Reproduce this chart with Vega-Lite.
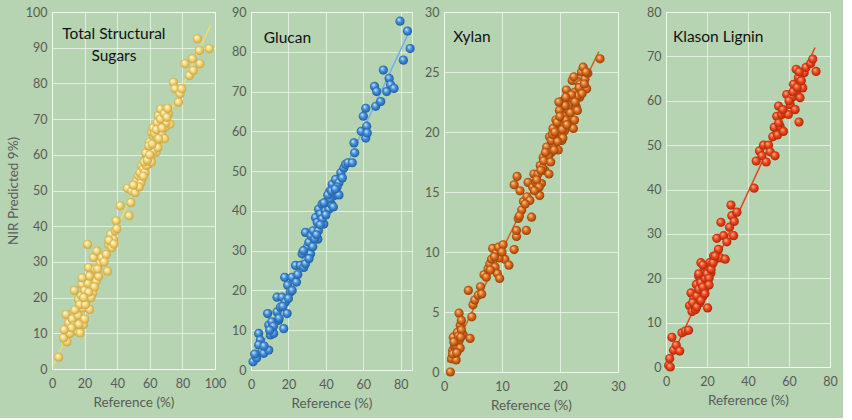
{
  "$schema": "https://vega.github.io/schema/vega-lite/v6.json",
  "background": "#b6d4b1",
  "padding": {"left": 5, "top": 5, "right": 5, "bottom": 5},
  "config": {
    "font": "Lato",
    "view": {"stroke": "#ffffff", "strokeOpacity": 0.6, "strokeWidth": 1},
    "axis": {
      "domain": false, "ticks": false, "labelOverlap": false, "labelFlush": false, "tickCount": 20,
      "grid": true, "gridColor": "#ffffff", "gridOpacity": 0.6, "gridWidth": 1,
      "labelColor": "#5a5a5a", "labelFontSize": 12.5, "labelPadding": 5,
      "titleColor": "#5a5a5a", "titleFontSize": 13.5, "titleFontWeight": "normal"
    },
    "axisX": {"titlePadding": 6, "labelPadding": 8},
    "axisY": {"titlePadding": 5}
  },
  "datasets": {
    "tss": [
      {"ref":4.1,"pred":3.3},{"ref":9.2,"pred":7.6},{"ref":7.1,"pred":8.7},{"ref":8.6,"pred":15.3},{"ref":9.2,"pred":11},{"ref":10.2,"pred":12.9},{"ref":13.7,"pred":22},{"ref":14.9,"pred":10.6},{"ref":15.7,"pred":13.9},{"ref":15.3,"pred":16.2},{"ref":16.3,"pred":19.5},{"ref":18.4,"pred":23.7},{"ref":19,"pred":17.1},{"ref":19.4,"pred":12.5},{"ref":17.3,"pred":10.1},{"ref":21,"pred":21.3},{"ref":21.4,"pred":19.5},{"ref":21.8,"pred":34.9},{"ref":22.4,"pred":28.4},{"ref":23.1,"pred":16.7},{"ref":23.9,"pred":23.2},{"ref":24.5,"pred":25.6},{"ref":25.1,"pred":21.3},{"ref":25.5,"pred":31.2},{"ref":26.5,"pred":27.9},{"ref":27.6,"pred":33},{"ref":27.1,"pred":24.6},{"ref":28.6,"pred":26},{"ref":29.6,"pred":29.8},{"ref":30.6,"pred":31.2},{"ref":33.3,"pred":32.1},{"ref":34.1,"pred":27.4},{"ref":34.7,"pred":34.9},{"ref":36.1,"pred":37.7},{"ref":36.7,"pred":34},{"ref":37.8,"pred":36.3},{"ref":38.8,"pred":38.7},{"ref":39.4,"pred":41.5},{"ref":39.8,"pred":39.3},{"ref":41.8,"pred":45.7},{"ref":46.3,"pred":50.6},{"ref":47.3,"pred":42.9},{"ref":48.4,"pred":46.6},{"ref":49,"pred":49.9},{"ref":51,"pred":49.4},{"ref":52,"pred":52.7},{"ref":53,"pred":54.1},{"ref":54,"pred":55},{"ref":55.1,"pred":56.9},{"ref":56.1,"pred":56},{"ref":57.1,"pred":58.3},{"ref":58.2,"pred":59.7},{"ref":58.8,"pred":61.1},{"ref":59.2,"pred":57.4},{"ref":59.8,"pred":63.5},{"ref":60.6,"pred":59.3},{"ref":61.2,"pred":66.3},{"ref":61.8,"pred":62.5},{"ref":62.7,"pred":64.9},{"ref":63.3,"pred":68.2},{"ref":63.9,"pred":60.7},{"ref":64.3,"pred":63.5},{"ref":65.3,"pred":71},{"ref":65.9,"pred":66.3},{"ref":66.7,"pred":72.8},{"ref":67.3,"pred":69.1},{"ref":68,"pred":64.9},{"ref":68.8,"pred":70.5},{"ref":69.4,"pred":67.7},{"ref":70,"pred":72.8},{"ref":71.4,"pred":71.4},{"ref":72.4,"pred":68.6},{"ref":74.5,"pred":80.3},{"ref":75.5,"pred":78.5},{"ref":77.6,"pred":74.7},{"ref":78.6,"pred":77.1},{"ref":79.6,"pred":78.5},{"ref":81.6,"pred":85.5},{"ref":84.3,"pred":82.2},{"ref":86.3,"pred":86.9},{"ref":86.7,"pred":83.6},{"ref":89.2,"pred":92.5},{"ref":90.4,"pred":89.2},{"ref":90.8,"pred":85.5},{"ref":96.5,"pred":89.7},
      {"ref":11,"pred":10},{"ref":12.5,"pred":14},{"ref":13,"pred":12},{"ref":16,"pred":15},{"ref":17,"pred":18},{"ref":18,"pred":20.5},{"ref":20,"pred":22},{"ref":20.5,"pred":18},{"ref":22,"pred":24},{"ref":23,"pred":26},{"ref":24,"pred":20},{"ref":26,"pred":23},{"ref":28,"pred":28},{"ref":32,"pred":30},{"ref":35,"pred":36},{"ref":38,"pred":35},{"ref":55,"pred":53},{"ref":57,"pred":55},{"ref":58,"pred":57},{"ref":60,"pred":61},{"ref":61,"pred":58},{"ref":62,"pred":61},{"ref":63,"pred":63},{"ref":64,"pred":65},{"ref":65,"pred":62},{"ref":66,"pred":68},{"ref":67,"pred":66},{"ref":68,"pred":70},{"ref":69,"pred":64.5},{"ref":70,"pred":69},{"ref":54.5,"pred":52},{"ref":56,"pred":54},{"ref":57.5,"pred":60.5},{"ref":59.5,"pred":62.5},{"ref":62,"pred":67.5},{"ref":64.5,"pred":69},{"ref":20,"pred":14},{"ref":14,"pred":16.5},{"ref":12,"pred":11.5},{"ref":7.5,"pred":11},{"ref":18.5,"pred":25.5},
      {"ref":56.5,"pred":58},{"ref":58.5,"pred":58.5},{"ref":60,"pred":60},{"ref":61.5,"pred":63},{"ref":63,"pred":66},{"ref":64,"pred":67},{"ref":65.5,"pred":64.5},{"ref":66.5,"pred":70},{"ref":67.5,"pred":67.5},{"ref":69,"pred":71.5},{"ref":70.5,"pred":70.5},{"ref":71,"pred":73},{"ref":53.5,"pred":51},{"ref":50,"pred":51.5},{"ref":22.5,"pred":21.5},{"ref":19.5,"pred":20},{"ref":16.5,"pred":12.5}
    ],
    "glucan": [
      {"ref":1.1,"pred":2.1},{"ref":4.1,"pred":9.2},{"ref":5,"pred":7.5},{"ref":4.1,"pred":6.3},{"ref":5.9,"pred":4.6},{"ref":6.8,"pred":4.2},{"ref":8.9,"pred":14.2},{"ref":9.5,"pred":5},{"ref":9.5,"pred":11.3},{"ref":11.1,"pred":12.1},{"ref":10.4,"pred":8.8},{"ref":12.1,"pred":9.2},{"ref":13.9,"pred":18.3},{"ref":13.9,"pred":14.6},{"ref":14.8,"pred":12.5},{"ref":15.7,"pred":15.8},{"ref":16.6,"pred":18.3},{"ref":17.5,"pred":10.4},{"ref":18,"pred":23.3},{"ref":18.4,"pred":17.1},{"ref":19.3,"pred":14.2},{"ref":19.6,"pred":21.3},{"ref":21,"pred":19.6},{"ref":21.9,"pred":23.3},{"ref":23.8,"pred":26.3},{"ref":24.3,"pred":22.1},{"ref":26.4,"pred":26.3},{"ref":27.3,"pred":29.2},{"ref":28.2,"pred":25.8},{"ref":29.1,"pred":34.6},{"ref":29.1,"pred":26.7},{"ref":30,"pred":30.8},{"ref":30.9,"pred":32.1},{"ref":31.8,"pred":29.2},{"ref":32.1,"pred":33.8},{"ref":33.2,"pred":35},{"ref":34.5,"pred":38.3},{"ref":35.4,"pred":37.1},{"ref":35.7,"pred":32.9},{"ref":36.1,"pred":40.4},{"ref":37.1,"pred":39.2},{"ref":38,"pred":41.7},{"ref":38.9,"pred":36.7},{"ref":39.8,"pred":40},{"ref":40.7,"pred":42.5},{"ref":41.6,"pred":40.4},{"ref":42.1,"pred":45},{"ref":42.9,"pred":41.7},{"ref":43.4,"pred":46.7},{"ref":44.3,"pred":43.8},{"ref":45.2,"pred":47.9},{"ref":46.1,"pred":44.2},{"ref":47,"pred":47.1},{"ref":48,"pred":49.6},{"ref":48.8,"pred":48.3},{"ref":49.6,"pred":50.8},{"ref":50.5,"pred":51.7},{"ref":51.8,"pred":52.1},{"ref":54.1,"pred":52.1},{"ref":55,"pred":57.1},{"ref":55.4,"pred":54.6},{"ref":58.9,"pred":60},{"ref":60,"pred":63.8},{"ref":61.3,"pred":65.8},{"ref":61.3,"pred":58.3},{"ref":61.8,"pred":61.3},{"ref":62.1,"pred":59.6},{"ref":66,"pred":71.3},{"ref":67.1,"pred":70},{"ref":66.6,"pred":66.3},{"ref":69.3,"pred":67.5},{"ref":70.7,"pred":75.4},{"ref":72.5,"pred":70},{"ref":73.8,"pred":73.3},{"ref":74.6,"pred":71.7},{"ref":76.4,"pred":70.8},{"ref":79.6,"pred":87.7},{"ref":81.4,"pred":77.9},{"ref":83.6,"pred":85.2},{"ref":85,"pred":80.8},
      {"ref":36,"pred":35},{"ref":38,"pred":38},{"ref":40,"pred":39},{"ref":42,"pred":43},{"ref":44,"pred":41},{"ref":46,"pred":46},{"ref":47,"pred":44},{"ref":33,"pred":31},{"ref":34,"pred":33},{"ref":31,"pred":28},{"ref":28,"pred":30},{"ref":39,"pred":42},{"ref":41,"pred":44},{"ref":43,"pred":45},{"ref":37,"pred":36.5},{"ref":35,"pred":34},{"ref":45,"pred":45.5},{"ref":25,"pred":24},{"ref":22,"pred":20},{"ref":20,"pred":18},{"ref":17,"pred":16},{"ref":15,"pred":13},{"ref":12,"pred":11},{"ref":10,"pred":10},{"ref":7,"pred":6},{"ref":3,"pred":3},{"ref":2,"pred":4}
    ],
    "xylan": [
      {"ref":1.1,"pred":0},{"ref":1.3,"pred":1.1},{"ref":1.5,"pred":1.8},{"ref":1.6,"pred":2.9},{"ref":1.8,"pred":2.1},{"ref":1.9,"pred":1.4},{"ref":2.1,"pred":1},{"ref":2.2,"pred":2.4},{"ref":2.3,"pred":3.3},{"ref":2.5,"pred":1.9},{"ref":2.6,"pred":4.9},{"ref":2.6,"pred":2.6},{"ref":2.8,"pred":3.9},{"ref":3,"pred":4.3},{"ref":3.3,"pred":3.1},{"ref":4.2,"pred":6.8},{"ref":4.5,"pred":2.8},{"ref":4.8,"pred":4.6},{"ref":5,"pred":5.6},{"ref":5.3,"pred":6},{"ref":5.9,"pred":6.4},{"ref":6.3,"pred":7.1},{"ref":6.5,"pred":6.5},{"ref":6.9,"pred":8.1},{"ref":7.3,"pred":7.9},{"ref":7.6,"pred":8.6},{"ref":7.9,"pred":9},{"ref":8.2,"pred":9.4},{"ref":8.4,"pred":10.3},{"ref":8.8,"pred":8.75},{"ref":9,"pred":9.9},{"ref":9.2,"pred":8.2},{"ref":9.4,"pred":10.4},{"ref":9.6,"pred":7.8},{"ref":9.9,"pred":9.9},{"ref":10.2,"pred":10.6},{"ref":10.5,"pred":9.4},{"ref":11.2,"pred":8.9},{"ref":12.1,"pred":10.2},{"ref":12.1,"pred":15.6},{"ref":12.5,"pred":11.3},{"ref":12.6,"pred":16.3},{"ref":12.5,"pred":11.8},{"ref":13.1,"pred":15.1},{"ref":12.8,"pred":12.8},{"ref":13.4,"pred":13.5},{"ref":13.7,"pred":14.2},{"ref":14.2,"pred":11.8},{"ref":14.3,"pred":14.6},{"ref":14.5,"pred":15.8},{"ref":14.8,"pred":14.3},{"ref":15.1,"pred":12.9},{"ref":15.3,"pred":15.4},{"ref":15.5,"pred":16.5},{"ref":15.8,"pred":15.8},{"ref":16.2,"pred":16.5},{"ref":16.5,"pred":14.7},{"ref":16.6,"pred":17.2},{"ref":16.8,"pred":15.7},{"ref":17.1,"pred":17.9},{"ref":17.4,"pred":16.8},{"ref":17.7,"pred":18.75},{"ref":18.1,"pred":16.5},{"ref":17.9,"pred":17.9},{"ref":18.2,"pred":19.6},{"ref":18.5,"pred":18.3},{"ref":18.8,"pred":20.3},{"ref":18.9,"pred":19},{"ref":19.3,"pred":21},{"ref":19.4,"pred":19.9},{"ref":19.7,"pred":18.5},{"ref":19.9,"pred":21.8},{"ref":20.1,"pred":20.6},{"ref":20.3,"pred":19.3},{"ref":20.5,"pred":22.6},{"ref":20.7,"pred":21.3},{"ref":20.8,"pred":20.1},{"ref":21.1,"pred":23.5},{"ref":21.4,"pred":21.9},{"ref":21.6,"pred":20.8},{"ref":21.7,"pred":22.8},{"ref":22.1,"pred":24.3},{"ref":22.3,"pred":20.3},{"ref":22.5,"pred":23.3},{"ref":22.8,"pred":22.1},{"ref":23.1,"pred":24.2},{"ref":23.4,"pred":22.9},{"ref":23.7,"pred":25},{"ref":24,"pred":25.4},{"ref":24.3,"pred":24.4},{"ref":24.6,"pred":23.6},{"ref":24.8,"pred":24.9},{"ref":26.9,"pred":26.1},
      {"ref":17,"pred":17},{"ref":18,"pred":18},{"ref":19,"pred":18.5},{"ref":20,"pred":20},{"ref":21,"pred":21},{"ref":22,"pred":22},{"ref":23,"pred":23},{"ref":19.5,"pred":20.8},{"ref":20.5,"pred":19.5},{"ref":21.5,"pred":22.2},{"ref":22.5,"pred":21},{"ref":23.5,"pred":24},{"ref":24.5,"pred":25},{"ref":16,"pred":16},{"ref":17.5,"pred":18.3},{"ref":18.5,"pred":19.3},{"ref":1.5,"pred":1.5},{"ref":2,"pred":2.2},{"ref":2.5,"pred":3},{"ref":3,"pred":3.5},{"ref":2.8,"pred":2},{"ref":8,"pred":8.5},{"ref":9.5,"pred":9.5},{"ref":10,"pred":10},{"ref":14,"pred":14},{"ref":13,"pred":13},
      {"ref":17.2,"pred":17.6},{"ref":18.4,"pred":17.5},{"ref":18.7,"pred":19.8},{"ref":19.1,"pred":20},{"ref":19.6,"pred":19.2},{"ref":20,"pred":21.3},{"ref":20.4,"pred":20.2},{"ref":20.9,"pred":22.2},{"ref":21.2,"pred":20.6},{"ref":21.8,"pred":21.6},{"ref":22,"pred":23.1},{"ref":22.6,"pred":22.5},{"ref":23,"pred":21.8},{"ref":23.3,"pred":23.7},{"ref":23.8,"pred":23.2},{"ref":24.2,"pred":24},{"ref":22.4,"pred":24.6},{"ref":21,"pred":22.9},{"ref":19.8,"pred":22.5},{"ref":16.7,"pred":16.8},{"ref":16.4,"pred":15.4},{"ref":15.6,"pred":15.1},{"ref":2.2,"pred":1.6},{"ref":1.7,"pred":2.5},{"ref":2.9,"pred":2.9},{"ref":8.7,"pred":9.6}
    ],
    "lignin": [
      {"ref":1.3,"pred":0.4},{"ref":1.8,"pred":1.9},{"ref":2.1,"pred":0},{"ref":2.9,"pred":6.7},{"ref":3.7,"pred":3.8},{"ref":5,"pred":4.9},{"ref":6.7,"pred":3.6},{"ref":7.8,"pred":7.7},{"ref":9.4,"pred":8.1},{"ref":11,"pred":8.3},{"ref":11.5,"pred":13.8},{"ref":12.2,"pred":16.7},{"ref":12.7,"pred":12.5},{"ref":13.5,"pred":15.2},{"ref":14.3,"pred":12.9},{"ref":14.8,"pred":18.6},{"ref":15.4,"pred":15.5},{"ref":15.9,"pred":20.5},{"ref":16.4,"pred":14.4},{"ref":16.7,"pred":17.1},{"ref":17,"pred":23.5},{"ref":17.5,"pred":19},{"ref":18,"pred":15.9},{"ref":18.3,"pred":21.2},{"ref":19.2,"pred":17.8},{"ref":19.6,"pred":22.4},{"ref":20.3,"pred":13.3},{"ref":20.3,"pred":19.3},{"ref":21.3,"pred":23.5},{"ref":21.9,"pred":21.2},{"ref":22.4,"pred":23.1},{"ref":23.2,"pred":25},{"ref":24,"pred":24.3},{"ref":24.8,"pred":29},{"ref":25.6,"pred":26.5},{"ref":26.5,"pred":24.6},{"ref":26.8,"pred":32.6},{"ref":28.1,"pred":29.6},{"ref":28.9,"pred":24.3},{"ref":29.7,"pred":28.2},{"ref":31,"pred":31.5},{"ref":31.7,"pred":36.5},{"ref":32.1,"pred":34.1},{"ref":33,"pred":29.6},{"ref":33.3,"pred":32.8},{"ref":34.6,"pred":34.9},{"ref":43,"pred":40.3},{"ref":44,"pred":46.4},{"ref":45.6,"pred":48.7},{"ref":46.8,"pred":47.6},{"ref":47.6,"pred":50},{"ref":48.9,"pred":46.2},{"ref":50,"pred":50},{"ref":50.8,"pred":48.5},{"ref":52.1,"pred":51.9},{"ref":52.8,"pred":54},{"ref":53.2,"pred":47.6},{"ref":54,"pred":56.5},{"ref":54.4,"pred":52.3},{"ref":54.9,"pred":58.8},{"ref":55.7,"pred":54.2},{"ref":56.5,"pred":56.9},{"ref":57.3,"pred":53.1},{"ref":58.1,"pred":57.2},{"ref":58.9,"pred":61.4},{"ref":59.7,"pred":56.9},{"ref":60.6,"pred":59.1},{"ref":61.4,"pred":60.7},{"ref":62.2,"pred":63.7},{"ref":63,"pred":58},{"ref":63.5,"pred":67.1},{"ref":63.8,"pred":62.2},{"ref":64.6,"pred":65.2},{"ref":64.9,"pred":55.2},{"ref":65.4,"pred":60.7},{"ref":66.7,"pred":62.9},{"ref":67.4,"pred":66.3},{"ref":68.3,"pred":67.5},{"ref":70.6,"pred":68.4},{"ref":71.6,"pred":69.4},{"ref":73.2,"pred":66.6},
      {"ref":14,"pred":14},{"ref":15,"pred":16},{"ref":16,"pred":17.5},{"ref":17,"pred":19},{"ref":18,"pred":18},{"ref":19,"pred":20},{"ref":20,"pred":21},{"ref":21,"pred":20},{"ref":22,"pred":22},{"ref":23,"pred":23.5},{"ref":24,"pred":25},{"ref":13,"pred":14.5},{"ref":15,"pred":13.5},{"ref":17,"pred":15},{"ref":19,"pred":16.5},{"ref":21,"pred":18.5},{"ref":16,"pred":21},{"ref":18,"pred":23},{"ref":57,"pred":58},{"ref":60,"pred":60},{"ref":62,"pred":62},{"ref":64,"pred":63},{"ref":66,"pred":64.5},{"ref":65,"pred":66.5},{"ref":55,"pred":55}
    ]
  },
  "spacing": 8,
  "hconcat": [
    {
      "bounds": "flush",
      "spacing": 36,
      "hconcat": [
        {
          "width": 163, "height": 357,
          "layer": [
            {
              "data": {"values": [{"ref": 1, "pred": 1.2}, {"ref": 97.3, "pred": 96.3}]},
              "mark": {"type": "line", "color": "#f0dc6c", "strokeWidth": 1.5},
              "encoding": {
                "x": {"field": "ref", "type": "quantitative", "scale": {"domain": [0, 100], "nice": false}, "axis": {"values": [0,20,40,60,80,100], "tickCount": 20, "title": "Reference (%)"}},
                "y": {"field": "pred", "type": "quantitative", "scale": {"domain": [0, 100], "nice": false}, "axis": {"values": [0,10,20,30,40,50,60,70,80,90,100], "tickCount": 20, "title": "NIR Predicted 9%)"}}
              }
            },
            {
              "data": {"name": "tss"},
              "mark": {"type": "point", "shape": "circle", "filled": true, "size": 85, "opacity": 1,
                "fill": {"gradient": "radial", "x1": 0.35, "y1": 0.3, "r1": 0, "x2": 0.5, "y2": 0.5, "r2": 0.55,
                  "stops": [{"offset": 0, "color": "#fffbe2"}, {"offset": 0.45, "color": "#f4d97c"}, {"offset": 1, "color": "#c49c38"}]}},
              "encoding": {
                "x": {"field": "ref", "type": "quantitative"},
                "y": {"field": "pred", "type": "quantitative"}
              }
            },
            {
              "data": {"values": [{"ref": 38, "pred": 93.7, "label": "Total Structural"}, {"ref": 38, "pred": 87.8, "label": "Sugars"}]},
              "mark": {"type": "text", "fontSize": 15.5, "color": "#111111", "align": "center", "baseline": "middle"},
              "encoding": {
                "x": {"field": "ref", "type": "quantitative"},
                "y": {"field": "pred", "type": "quantitative"},
                "text": {"field": "label"}
              }
            }
          ]
        },
        {
          "width": 161, "height": 358,
          "layer": [
            {
              "data": {"values": [{"ref": 0.5, "pred": 0.8}, {"ref": 83.6, "pred": 84.2}]},
              "mark": {"type": "line", "color": "#72b2ea", "strokeWidth": 1.5},
              "encoding": {
                "x": {"field": "ref", "type": "quantitative", "scale": {"domain": [0, 86], "nice": false}, "axis": {"values": [0,20,40,60,80], "tickCount": 20, "title": "Reference (%)"}},
                "y": {"field": "pred", "type": "quantitative", "scale": {"domain": [0, 90], "nice": false}, "axis": {"values": [0,10,20,30,40,50,60,70,80,90], "tickCount": 20, "title": null}}
              }
            },
            {
              "data": {"name": "glucan"},
              "mark": {"type": "point", "shape": "circle", "filled": true, "size": 85, "opacity": 1,
                "fill": {"gradient": "radial", "x1": 0.35, "y1": 0.3, "r1": 0, "x2": 0.5, "y2": 0.5, "r2": 0.55,
                  "stops": [{"offset": 0, "color": "#d8edff"}, {"offset": 0.45, "color": "#4592dc"}, {"offset": 1, "color": "#1b5595"}]}},
              "encoding": {
                "x": {"field": "ref", "type": "quantitative"},
                "y": {"field": "pred", "type": "quantitative"}
              }
            },
            {
              "data": {"values": [{"ref": 6.8, "pred": 83.5, "label": "Glucan"}]},
              "mark": {"type": "text", "fontSize": 15.5, "color": "#111111", "align": "left", "baseline": "middle"},
              "encoding": {
                "x": {"field": "ref", "type": "quantitative"},
                "y": {"field": "pred", "type": "quantitative"},
                "text": {"field": "label"}
              }
            }
          ]
        }
      ]
    },
    {
      "bounds": "flush",
      "spacing": 48,
      "hconcat": [
        {
          "width": 174, "height": 360,
          "layer": [
            {
              "data": {"values": [{"ref": 0.6, "pred": 0.8}, {"ref": 26.7, "pred": 26.7}]},
              "mark": {"type": "line", "color": "#cf6418", "strokeWidth": 1.5},
              "encoding": {
                "x": {"field": "ref", "type": "quantitative", "scale": {"domain": [0, 30], "nice": false}, "axis": {"values": [0,10,20,30], "tickCount": 20, "title": "Reference (%)"}},
                "y": {"field": "pred", "type": "quantitative", "scale": {"domain": [0, 30], "nice": false}, "axis": {"values": [0,5,10,15,20,25,30], "tickCount": 20, "title": null}}
              }
            },
            {
              "data": {"name": "xylan"},
              "mark": {"type": "point", "shape": "circle", "filled": true, "size": 85, "opacity": 1,
                "fill": {"gradient": "radial", "x1": 0.35, "y1": 0.3, "r1": 0, "x2": 0.5, "y2": 0.5, "r2": 0.55,
                  "stops": [{"offset": 0, "color": "#ffd2a4"}, {"offset": 0.45, "color": "#e0711f"}, {"offset": 1, "color": "#8a3805"}]}},
              "encoding": {
                "x": {"field": "ref", "type": "quantitative"},
                "y": {"field": "pred", "type": "quantitative"}
              }
            },
            {
              "data": {"values": [{"ref": 1.6, "pred": 27.9, "label": "Xylan"}]},
              "mark": {"type": "text", "fontSize": 15.5, "color": "#111111", "align": "left", "baseline": "middle"},
              "encoding": {
                "x": {"field": "ref", "type": "quantitative"},
                "y": {"field": "pred", "type": "quantitative"},
                "text": {"field": "label"}
              }
            }
          ]
        },
        {
          "width": 164, "height": 355,
          "layer": [
            {
              "data": {"values": [{"ref": 1.3, "pred": 0.8}, {"ref": 72.7, "pred": 72}]},
              "mark": {"type": "line", "color": "#e8401c", "strokeWidth": 1.5},
              "encoding": {
                "x": {"field": "ref", "type": "quantitative", "scale": {"domain": [0, 80], "nice": false}, "axis": {"values": [0,20,40,60,80], "tickCount": 20, "title": "Reference (%)"}},
                "y": {"field": "pred", "type": "quantitative", "scale": {"domain": [0, 80], "nice": false}, "axis": {"values": [0,10,20,30,40,50,60,70,80], "tickCount": 20, "title": null}}
              }
            },
            {
              "data": {"name": "lignin"},
              "mark": {"type": "point", "shape": "circle", "filled": true, "size": 85, "opacity": 1,
                "fill": {"gradient": "radial", "x1": 0.35, "y1": 0.3, "r1": 0, "x2": 0.5, "y2": 0.5, "r2": 0.55,
                  "stops": [{"offset": 0, "color": "#ffb8a0"}, {"offset": 0.45, "color": "#f04b1f"}, {"offset": 1, "color": "#a22205"}]}},
              "encoding": {
                "x": {"field": "ref", "type": "quantitative"},
                "y": {"field": "pred", "type": "quantitative"}
              }
            },
            {
              "data": {"values": [{"ref": 3.4, "pred": 74.3, "label": "Klason Lignin"}]},
              "mark": {"type": "text", "fontSize": 15.5, "color": "#111111", "align": "left", "baseline": "middle"},
              "encoding": {
                "x": {"field": "ref", "type": "quantitative"},
                "y": {"field": "pred", "type": "quantitative"},
                "text": {"field": "label"}
              }
            }
          ]
        }
      ]
    }
  ]
}
